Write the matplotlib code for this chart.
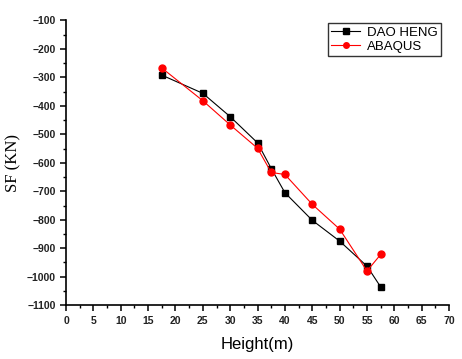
import numpy as np
import matplotlib
matplotlib.use("Agg")
import matplotlib.pyplot as plt
from matplotlib.ticker import MultipleLocator

# values
height = [17.5, 25, 30, 35, 37.5, 40, 45, 50, 55, 57.5]
dao_heng = [-292, -356, -438, -530, -620, -705, -802, -875, -963, -1036]
abaqus = [-267, -382, -467, -549, -634, -641, -746, -833, -980, -922]

fig = plt.figure(figsize=(4.62, 3.59), dpi=100)
ax = fig.add_axes([0.143, 0.150, 0.829, 0.793])

ax.plot(height, dao_heng, color='black', lw=0.8, marker='s', ms=4.5,
        label='DAO HENG')
ax.plot(height, abaqus, color='red', lw=0.8, marker='o', ms=5,
        label='ABAQUS')

ax.set_xlim(0, 70)
ax.set_ylim(-1100, -100)
ax.xaxis.set_major_locator(MultipleLocator(5))
ax.xaxis.set_minor_locator(MultipleLocator(2.5))
ax.yaxis.set_major_locator(MultipleLocator(100))
ax.yaxis.set_minor_locator(MultipleLocator(50))

for s in ['top', 'right']:
    ax.spines[s].set_visible(False)
for s in ['left', 'bottom']:
    ax.spines[s].set_linewidth(1.2)

ax.tick_params(which='major', direction='out', length=4, width=1.1,
               labelsize=7.5)
ax.tick_params(which='minor', direction='out', length=2.5, width=1.0)
for lab in ax.get_xticklabels() + ax.get_yticklabels():
    lab.set_fontweight('bold')
    lab.set_family('Liberation Sans')
    lab.set_color('#222222')

ax.set_xlabel('Height(m)', fontsize=12, family='Liberation Sans', labelpad=8)
ax.set_ylabel('SF (KN)', fontsize=12, family='Liberation Serif', labelpad=4)

leg = ax.legend(loc='upper right', bbox_to_anchor=(0.985, 1.0),
                prop={'family': 'Liberation Sans', 'size': 9.5},
                frameon=True, fancybox=False, edgecolor='black',
                borderpad=0.25, handlelength=2.2, handletextpad=0.5,
                labelspacing=0.15, borderaxespad=0.2)
leg.get_frame().set_linewidth(1.0)
for h in leg.legend_handles:
    h.set_markersize(4)

fig.savefig('out.png', dpi=100)
